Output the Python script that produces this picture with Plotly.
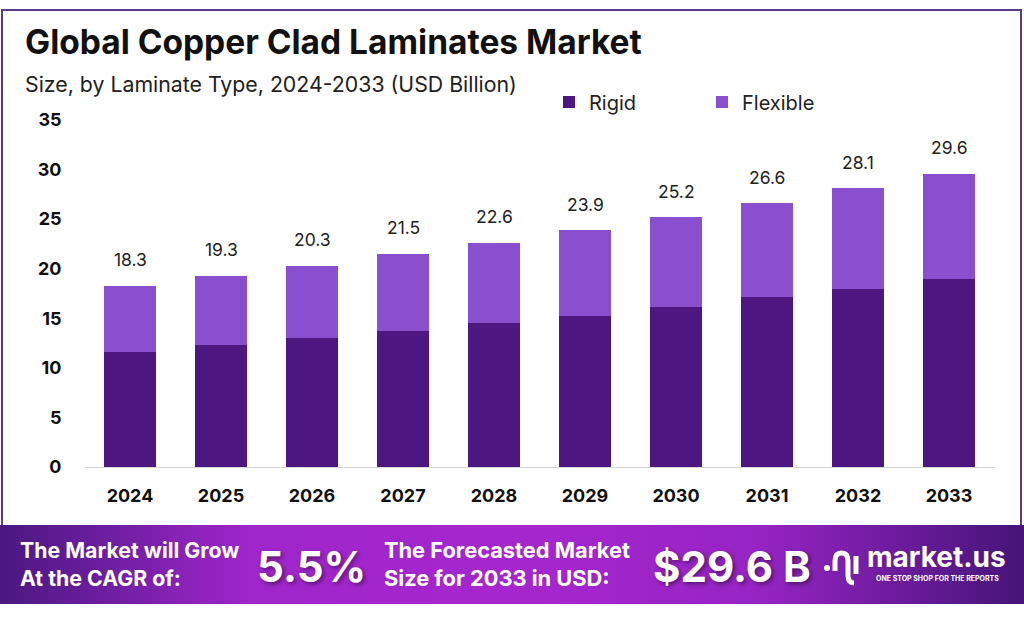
import plotly.graph_objects as go

years = ["2024", "2025", "2026", "2027", "2028", "2029", "2030", "2031", "2032", "2033"]
rigid = [11.6, 12.3, 13.0, 13.7, 14.5, 15.2, 16.1, 17.1, 18.0, 19.0]
flexible = [6.7, 7.0, 7.3, 7.8, 8.1, 8.7, 9.1, 9.5, 10.1, 10.6]
totals = [18.3, 19.3, 20.3, 21.5, 22.6, 23.9, 25.2, 26.6, 28.1, 29.6]
y_ticks = [0, 5, 10, 15, 20, 25, 30, 35]

W, H = 1024, 621
RIGID_C = "#4e1681"
FLEX_C = "#8a4fcf"
FONT = "Inter, 'Open Sans', sans-serif"


def px(x):
    return x / W


def py(y):
    return 1 - y / H


fig = go.Figure()
fig.add_trace(go.Bar(x=years, y=rigid, name="Rigid", marker=dict(color=RIGID_C, line=dict(width=0))))
fig.add_trace(go.Bar(x=years, y=flexible, name="Flexible", marker=dict(color=FLEX_C, line=dict(width=0))))

shapes = []
# panel border
shapes.append(dict(type="rect", xref="paper", yref="paper", x0=px(2), x1=px(1021), y0=py(527), y1=py(10),
                   line=dict(color="#5b3a8c", width=2), fillcolor="rgba(0,0,0,0)", layer="below"))


# gradient banner
def lerp(c1, c2, t):
    return tuple(round(a + (b - a) * t) for a, b in zip(c1, c2))


stops = [(0, (74, 24, 128)), (250, (158, 38, 202)), (520, (166, 38, 206)), (760, (150, 36, 195)), (1024, (70, 20, 120))]
n = 128
for i in range(n):
    x0 = W * i / n
    x1 = W * (i + 1) / n + 0.5
    xm = (x0 + x1) / 2
    for j in range(len(stops) - 1):
        if stops[j][0] <= xm <= stops[j + 1][0]:
            t = (xm - stops[j][0]) / (stops[j + 1][0] - stops[j][0])
            c = lerp(stops[j][1], stops[j + 1][1], t)
            break
    shapes.append(dict(type="rect", xref="paper", yref="paper", x0=px(x0), x1=px(min(x1, W)), y0=py(604), y1=py(525),
                       line=dict(width=0), fillcolor=f"rgb{c}", layer="below"))


# logo icon (decoration)
def P(x, y):
    return f"{px(x):.5f},{py(y):.5f}"


shapes.append(dict(type="circle", xref="paper", yref="paper", x0=px(824), x1=px(830), y0=py(571), y1=py(565),
                   fillcolor="white", line=dict(width=0)))
shapes.append(dict(type="path", xref="paper", yref="paper",
                   path=f"M {P(835, 571)} L {P(835, 561)} Q {P(835, 553)} {P(841.5, 553)} Q {P(848, 553)} {P(848, 561)} "
                        f"L {P(848, 575)} Q {P(848, 583)} {P(854, 583)}",
                   line=dict(color="white", width=5)))
shapes.append(dict(type="line", xref="paper", yref="paper", x0=px(856), x1=px(856), y0=py(574), y1=py(556),
                   line=dict(color="white", width=5)))

ann = []


def add(text, x, y, size, color, xanchor="left", bold=False, shadow=None, align="left", family=FONT):
    f = dict(family=family, size=size, color=color)
    if shadow:
        f["shadow"] = shadow
    ann.append(dict(text=f"<b>{text}</b>" if bold else text, x=px(x), y=py(y), xref="paper", yref="paper",
                    xanchor=xanchor, yanchor="middle", align=align, showarrow=False, font=f))


add("Global Copper Clad Laminates Market", 23, 42, 33.5, "#111111", bold=True)
add("Size, by Laminate Type, 2024-2033 (USD Billion)", 23, 84, 21.3, "#222222")

white = "#ffffff"
shadow = "2px 2px 4px rgba(0,0,0,0.45)"
add("The Market will Grow<br>At the CAGR of:", 18, 564, 21.3, white, bold=True)
add("5.5%", 255, 566, 42, white, bold=True, shadow=shadow)
add("The Forecasted Market<br>Size for 2033 in USD:", 382, 564, 21.8, white, bold=True)
add("$29.6 B", 651, 566, 42, white, bold=True, shadow=shadow)
add("market.us", 865, 557, 28, white, bold=True)
add("ONE STOP SHOP FOR THE REPORTS", 874, 578, 7, white, bold=True)

# value labels above the bars (category index positions)
for i, tot in enumerate(totals):
    ann.append(dict(text=f"{tot:.1f}", x=i, y=tot, xref="x", yref="y", yshift=26, showarrow=False,
                    xanchor="center", yanchor="middle", font=dict(family=FONT, size=17.5, color="#222222")))

fig.update_layout(
    width=W, height=H, barmode="stack", bargap=0.43,
    margin=dict(l=0, r=0, t=0, b=0, autoexpand=False),
    paper_bgcolor="white", plot_bgcolor="white",
    shapes=shapes, annotations=ann,
    showlegend=True,
    legend=dict(orientation="h", x=px(549), y=py(102), xanchor="left", yanchor="middle",
                font=dict(family=FONT, size=20, color="#222222"), entrywidth=108, entrywidthmode="pixels",
                itemwidth=30, traceorder="normal", bgcolor="rgba(0,0,0,0)"),
    xaxis=dict(type="category", domain=[px(84.5), px(994.5)], range=[-0.5, 9.5], showgrid=False, showline=True,
               linecolor="#d9d9d9", linewidth=1,
               ticks="", tickfont=dict(family=FONT, size=18, color="#111111", weight="bold"), ticklabelstandoff=12,
               automargin=False, fixedrange=True),
    yaxis=dict(domain=[py(467), py(120)], range=[0, 35], tickvals=y_ticks, showgrid=False, zeroline=False,
               showline=False, ticks="", tickfont=dict(family=FONT, size=18, color="#111111", weight="bold"),
               ticklabelstandoff=22, automargin=False, fixedrange=True),
)
fig.write_html("out.html", config={"displayModeBar": False},
               post_script="document.body.style.margin='0';document.body.style.overflow='hidden';")
